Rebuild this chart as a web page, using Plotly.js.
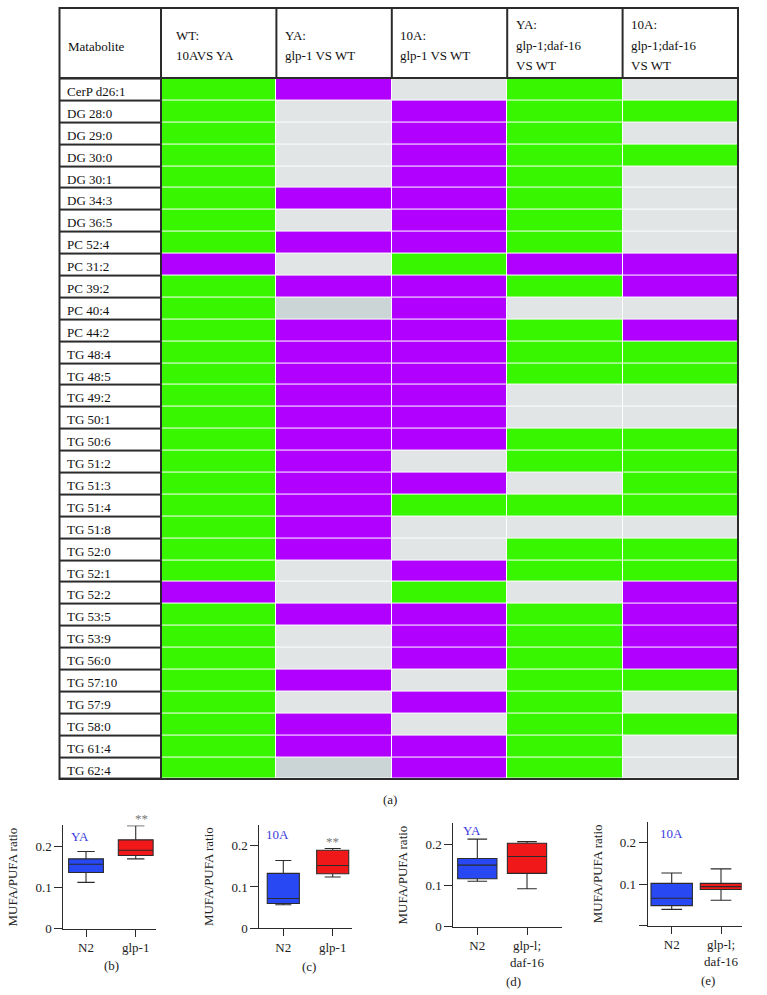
<!DOCTYPE html>
<html><head><meta charset="utf-8">
<script src="https://cdn.plot.ly/plotly-3.0.1.min.js"></script>
<style>html,body{margin:0;padding:0;background:#fff}</style>
</head><body><div id="chart" style="width:767px;height:995px"></div>
<script>
// ---------- DATA ----------
const metabolites = ['CerP d26:1','DG 28:0','DG 29:0','DG 30:0','DG 30:1','DG 34:3','DG 36:5','PC 52:4','PC 31:2','PC 39:2','PC 40:4','PC 44:2','TG 48:4','TG 48:5','TG 49:2','TG 50:1','TG 50:6','TG 51:2','TG 51:3','TG 51:4','TG 51:8','TG 52:0','TG 52:1','TG 52:2','TG 53:5','TG 53:9','TG 56:0','TG 57:10','TG 57:9','TG 58:0','TG 61:4','TG 62:4'];
const labelHeader = 'Matabolite';
const comparisons = ['WT: 10AVS YA','YA: glp-1 VS WT','10A: glp-1 VS WT','YA: glp-1;daf-16 VS WT','10A: glp-1;daf-16 VS WT'];
const headerLines = [['WT:','10AVS YA'],['YA:','glp-1 VS WT'],['10A:','glp-1 VS WT'],['YA:','glp-1;daf-16','VS WT'],['10A:','glp-1;daf-16','VS WT']];
// G = green, P = purple, N = grey (no change), D = darker grey
const st_WT_10AvsYA   = ['G','G','G','G','G','G','G','G','P','G','G','G','G','G','G','G','G','G','G','G','G','G','G','P','G','G','G','G','G','G','G','G'];
const st_YA_glp1      = ['P','N','N','N','N','P','N','P','N','P','D','P','P','P','P','P','P','P','P','P','P','P','N','N','P','N','N','P','N','P','P','D'];
const st_10A_glp1     = ['N','P','P','P','P','P','P','P','G','P','P','P','P','P','P','P','P','N','P','G','N','N','P','G','P','P','P','N','P','N','P','P'];
const st_YA_glp1daf16 = ['G','G','G','G','G','G','G','G','P','G','N','G','G','G','N','N','G','G','N','G','N','G','G','N','G','G','G','G','G','G','G','G'];
const st_10A_glp1daf16= ['N','G','N','G','N','N','N','N','P','P','N','P','G','G','N','N','G','G','G','G','N','G','G','P','P','P','P','G','N','G','N','N'];
const statusColumns = [st_WT_10AvsYA, st_YA_glp1, st_10A_glp1, st_YA_glp1daf16, st_10A_glp1daf16];

// Box plot panels (b)-(e): MUFA/PUFA ratio
const panelTags   = ['YA','10A','YA','10A'];
const panelLetters= ['(b)','(c)','(d)','(e)'];
const groupNames  = [['N2','glp-1'],['N2','glp-1'],['N2','glp-l;<br>daf-16'],['N2','glp-l;<br>daf-16']];
const lowerFence  = [[0.112,0.169],[0.057,0.124],[0.110,0.092],[0.039,0.061]];
const q1Values    = [[0.136,0.177],[0.060,0.132],[0.116,0.129],[0.048,0.087]];
const medians     = [[0.156,0.190],[0.072,0.152],[0.149,0.170],[0.066,0.094]];
const q3Values    = [[0.169,0.215],[0.133,0.189],[0.165,0.202],[0.102,0.102]];
const upperFence  = [[0.187,0.249],[0.164,0.193],[0.212,0.206],[0.127,0.137]];
const significance= ['**','**','',''];
const yTickVals   = [0, 0.1, 0.2];
const yTickText   = [['0','0.1','0.2'],['0','0.1','0.2'],['0','0.1','0.2'],['','0.1','0.2']];

// ---------- STYLE / LAYOUT ----------
const W = 767, H = 995;
const px = x => x / W, py = y => 1 - y / H;
const FONT = '"Liberation Serif", "Times New Roman", serif';
const DARK = '#2b2b2b';
const code = {N:0, G:1, P:2, D:3};
const colorscale = [[0,'#e1e5e5'],[1/6,'#e1e5e5'],[1/6,'#38f500'],[0.5,'#38f500'],[0.5,'#b100ff'],[5/6,'#b100ff'],[5/6,'#ccd5d5'],[1,'#ccd5d5']];

const z = metabolites.map((m,i) => statusColumns.map(col => code[col[i]]));

const tableTop = 8, headerBottom = 78, tableBottom = 779, tableLeft = 59.5, labelRight = 161, tableRight = 738;

const traces = [];
traces.push({type:'heatmap', x:[labelHeader], y:metabolites, z:metabolites.map(()=>[0]),
  colorscale:[[0,'#ffffff'],[1,'#ffffff']], showscale:false, ygap:2, xaxis:'x', yaxis:'y', hoverinfo:'skip'});
traces.push({type:'heatmap', x:comparisons, y:metabolites, z:z, zmin:0, zmax:3, colorscale:colorscale,
  showscale:false, xgap:1, ygap:1, xaxis:'x2', yaxis:'y', hoverinfo:'skip'});

const layout = {
  width:W, height:H, margin:{l:0,r:0,t:0,b:0}, paper_bgcolor:'#fff', plot_bgcolor:'#fff',
  showlegend:false, font:{family:FONT, color:'#222', size:13},
  xaxis:{domain:[px(tableLeft),px(labelRight)], anchor:'y', showticklabels:false, showgrid:false, zeroline:false, showline:false, ticks:''},
  xaxis2:{domain:[px(labelRight),px(tableRight)], anchor:'y', type:'category', showticklabels:false, showgrid:false, zeroline:false, showline:false, ticks:''},
  yaxis:{domain:[py(tableBottom),py(headerBottom)], anchor:'x', type:'category', categoryarray:metabolites, autorange:'reversed', showticklabels:false, showgrid:false, zeroline:false, ticks:''},
  shapes:[], annotations:[]
};

// label column dark separators (background behind white cells)
layout.shapes.push({type:'rect', xref:'x domain', yref:'y domain', x0:0, x1:1, y0:0, y1:1, fillcolor:DARK, line:{width:0}, layer:'below'});
// frame
layout.shapes.push({type:'rect', xref:'paper', yref:'paper', x0:px(tableLeft), x1:px(tableRight), y0:py(tableBottom), y1:py(tableTop), line:{color:DARK, width:2}, fillcolor:'rgba(0,0,0,0)'});
layout.shapes.push({type:'line', xref:'paper', yref:'paper', x0:px(labelRight), x1:px(labelRight), y0:py(tableBottom), y1:py(tableTop), line:{color:DARK, width:2}});
layout.shapes.push({type:'line', xref:'paper', yref:'paper', x0:px(tableLeft), x1:px(tableRight), y0:py(headerBottom), y1:py(headerBottom), line:{color:DARK, width:2}});
for (let j = 0; j < comparisons.length - 1; j++) {
  layout.shapes.push({type:'line', xref:'x2', yref:'paper', x0:j+0.5, x1:j+0.5, y0:py(headerBottom), y1:py(tableTop), line:{color:DARK, width:2}});
}
// header text
layout.annotations.push({xref:'x domain', yref:'paper', x:0, xshift:6, y:py(46), xanchor:'left', yanchor:'middle', text:labelHeader, showarrow:false, font:{family:FONT,size:13,color:'#111'}});
const indents = [13,7,6,7,6];
headerLines.forEach((lines,j) => {
  const n = lines.length;
  lines.forEach((t,k) => {
    layout.annotations.push({xref:'x2', yref:'paper', x:j-0.5, xshift:indents[j], y:py(45.5 + (k-(n-1)/2)*20.5), xanchor:'left', yanchor:'middle', text:t, showarrow:false, font:{family:FONT,size:13,color:'#111'}});
  });
});
// row labels
metabolites.forEach(m => {
  layout.annotations.push({xref:'x domain', yref:'y', x:0, xshift:5, y:m, yshift:-2, xanchor:'left', yanchor:'middle', text:m, showarrow:false, font:{family:FONT,size:13,color:'#111'}});
});
layout.annotations.push({xref:'paper', yref:'paper', x:px(390), y:py(799), xanchor:'center', yanchor:'middle', text:'(a)', showarrow:false, font:{family:FONT,size:13,color:'#222'}});

// box panels
const geom = [
  {x0:63.3, x1:156,   y0:928.7, y1:825.4, r:[-0.457,1.408], w:0.70, lx:112, ly:965},
  {x0:259.3, x1:352.3, y0:928.3, y1:825.0, r:[-0.486,1.397], w:0.65, lx:309, ly:966},
  {x0:453.3, x1:561.7, y0:926.7, y1:823.4, r:[-0.483,1.698], w:0.79, lx:513, ly:981},
  {x0:647.7, x1:741.7, y0:925.5, y1:822.2, r:[-0.487,1.420], w:0.84, lx:708, ly:980}
];
const tagPos = [[-0.12,0.224],[-0.11,0.228],[-0.11,0.234],[0,0.223]];
const fills = ['#2748f2','#f01818'];
geom.forEach((g,p) => {
  const xa = 'x'+(p+3), ya = 'y'+(p+3);
  groupNames[p].forEach((name,k) => {
    traces.push({type:'box', x:[name], q1:[q1Values[p][k]], median:[medians[p][k]], q3:[q3Values[p][k]],
      lowerfence:[lowerFence[p][k]], upperfence:[upperFence[p][k]], width:g.w, whiskerwidth:0.5,
      fillcolor:fills[k], line:{color:DARK, width:1.1}, boxpoints:false, xaxis:xa, yaxis:ya, hoverinfo:'skip'});
  });
  layout['xaxis'+(p+3)] = {domain:[px(g.x0),px(g.x1)], anchor:ya, type:'category', categoryarray:groupNames[p], range:g.r,
    showline:true, linecolor:DARK, linewidth:1, ticks:'outside', ticklen:7, tickcolor:DARK, tickwidth:1,
    showgrid:false, zeroline:false, tickfont:{family:FONT,size:13,color:'#222'}};
  layout['yaxis'+(p+3)] = {domain:[py(g.y0),py(g.y1)], anchor:xa, range:[0,0.25], tickvals:yTickVals, ticktext:yTickText[p],
    showline:true, linecolor:DARK, linewidth:1, ticks:'outside', ticklen:8, tickcolor:DARK, tickwidth:1,
    showgrid:false, zeroline:false, tickfont:{family:FONT,size:13,color:'#222'},
    title:{text:'MUFA/PUFA ratio', font:{family:FONT,size:13,color:'#222'}, standoff:14}};
  layout.annotations.push({xref:xa, yref:ya, x:tagPos[p][0], y:tagPos[p][1], xanchor:'center', yanchor:'middle',
    text:panelTags[p], showarrow:false, font:{family:FONT,size:13,color:'#3a3ae0'}});
  if (significance[p]) {
    layout.annotations.push({xref:xa, yref:ya, x:groupNames[p][1], xshift:p===0?6:0, xanchor:'center', y:upperFence[p][1], yanchor:'bottom', yshift:-2,
      text:significance[p], showarrow:false, font:{family:FONT,size:13,color:'#777'}});
  }
  layout.annotations.push({xref:'paper', yref:'paper', x:px(g.lx), y:py(g.ly), xanchor:'center', yanchor:'middle', text:panelLetters[p], showarrow:false, font:{family:FONT,size:13,color:'#222'}});
});

Plotly.newPlot('chart', traces, layout, {staticPlot:true, displayModeBar:false});
</script></body></html>
